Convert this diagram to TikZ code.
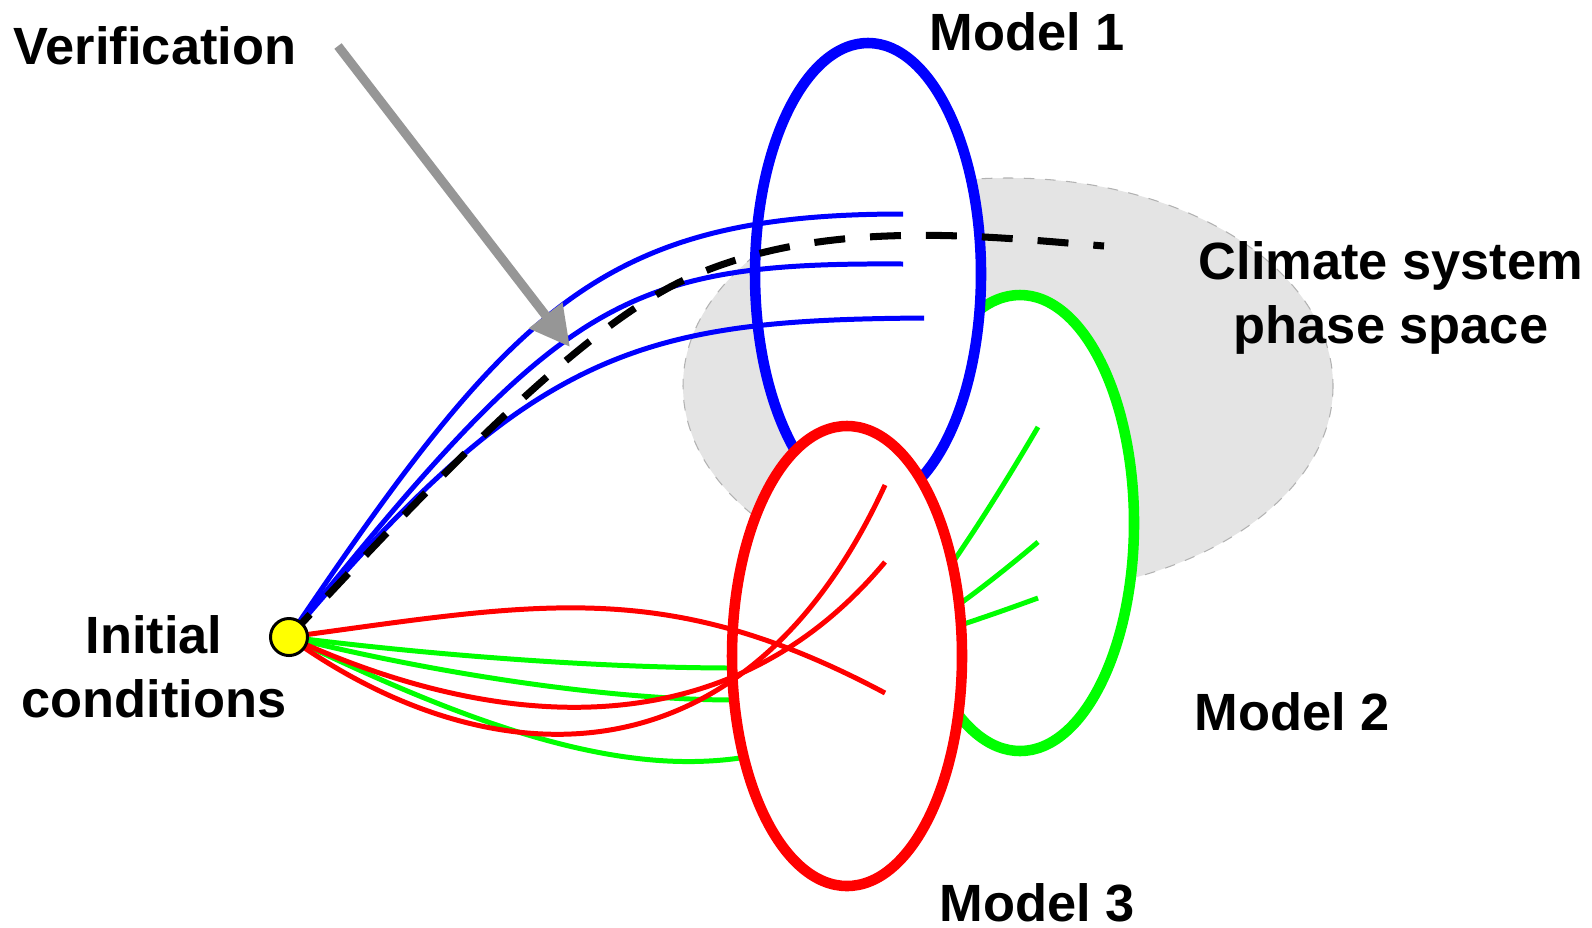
\documentclass[tikz,border=0pt]{standalone}
\usepackage{fontspec}
\usepackage{tikz}
\usetikzlibrary{arrows.meta}
\newfontfamily\rotulofont{Liberation Sans}
\definecolor{cazul}{HTML}{0000FF}
\definecolor{crojo}{HTML}{FF0000}
\definecolor{cverde}{HTML}{00FF00}
\definecolor{cgris}{HTML}{969696}
\definecolor{cfondo}{HTML}{E4E4E4}
\definecolor{camarillo}{HTML}{FFFF00}
\tikzset{
  modelo/.style={draw=#1, fill=white, line width=3pt},
  traza/.style={draw=#1, line width=1.42pt},
  rotulo/.style={font=\rotulofont\bfseries\fontsize{14.9}{18.2}\selectfont, inner sep=0pt, align=center},
  verif/.style={-{Triangle[length=0.4cm, width=0.4cm]}, line width=2.6pt, draw=cgris},
  inicio/.style={circle, fill=camarillo, draw=black, line width=0.85pt, minimum size=0.37cm, inner sep=0pt},
}

\begin{document}
\begin{tikzpicture}[x=0.01cm, y=-0.01cm]
    \useasboundingbox (0,0) rectangle (1592,927);
    \coordinate (ic) at (289,637);
    % espacio de fases del sistema climatico
    \filldraw[fill=cfondo, draw=gray!60, dashed, line width=0.3pt] (1008,386) ellipse [x radius=325, y radius=208];
    % modelo 2
    \filldraw[modelo=cverde] (1020,523) ellipse [x radius=114, y radius=228];
    \coordinate (g1) at (1038,598);
    \coordinate (g2) at (1038,542);
    \coordinate (g3) at (1038,427);
    \draw[traza=cverde] (ic) .. controls (430,655) and (600,668) .. (735,668) .. controls (840,668) and (950,630) .. (g1);
    \draw[traza=cverde] (ic) .. controls (420,670) and (600,700) .. (735,700) .. controls (830,700) and (940,625) .. (g2);
    \draw[traza=cverde] (ic) .. controls (480,730) and (620,775) .. (740,758) .. controls (840,744) and (960,560) .. (g3);
    % modelo 1
    \filldraw[modelo=cazul] (868,274) ellipse [x radius=113, y radius=231];
    \coordinate (b1) at (903,214);
    \coordinate (b2) at (903,264);
    \coordinate (b3) at (924,318);
    \coordinate (obs) at (1104,246);
    \draw[traza=cazul] (ic) .. controls (513,305) and (603,214) .. (b1);
    \draw[traza=cazul] (ic) .. controls (560,300) and (620,262) .. (b2);
    \draw[traza=cazul] (ic) .. controls (533,346) and (644,320) .. (b3);
    \draw[black, line width=2pt, dash pattern=on 8.8pt off 7.1pt] (ic) .. controls (425,491) and (575,331) .. (684,280) .. controls (820,217) and (980,236) .. (obs);
    % modelo 3
    \filldraw[modelo=crojo] (847,656) ellipse [x radius=115, y radius=230];
    \coordinate (r1) at (885,693);
    \coordinate (r2) at (885,562);
    \coordinate (r3) at (885,485);
    \draw[traza=crojo] (ic) .. controls (539,603) and (665,576) .. (r1);
    \draw[traza=crojo] (ic) .. controls (480,725) and (720,760) .. (r2);
    \draw[traza=crojo] (ic) .. controls (480,775) and (740,800) .. (r3);
    % verificacion
    \coordinate (vtail) at (338,46);
    \coordinate (vtip) at (570,347);
    \draw[verif] (vtail) -- (vtip);
    \node[inicio] (cond) at (ic) {};
    % rotulos
    \node[rotulo, anchor=base west] (lverif) at (13,64) {Verification};
    \node[rotulo, anchor=base west] (lm1) at (929,50) {Model 1};
    \node[rotulo, anchor=base] (lclima) at (1391,343) {Climate system\\phase space};
    \node[rotulo, anchor=base] (lic) at (154,717) {Initial\\conditions};
    \node[rotulo, anchor=base west] (lm2) at (1194,730) {Model 2};
    \node[rotulo, anchor=base west] (lm3) at (939,921) {Model 3};
\end{tikzpicture}
\end{document}
